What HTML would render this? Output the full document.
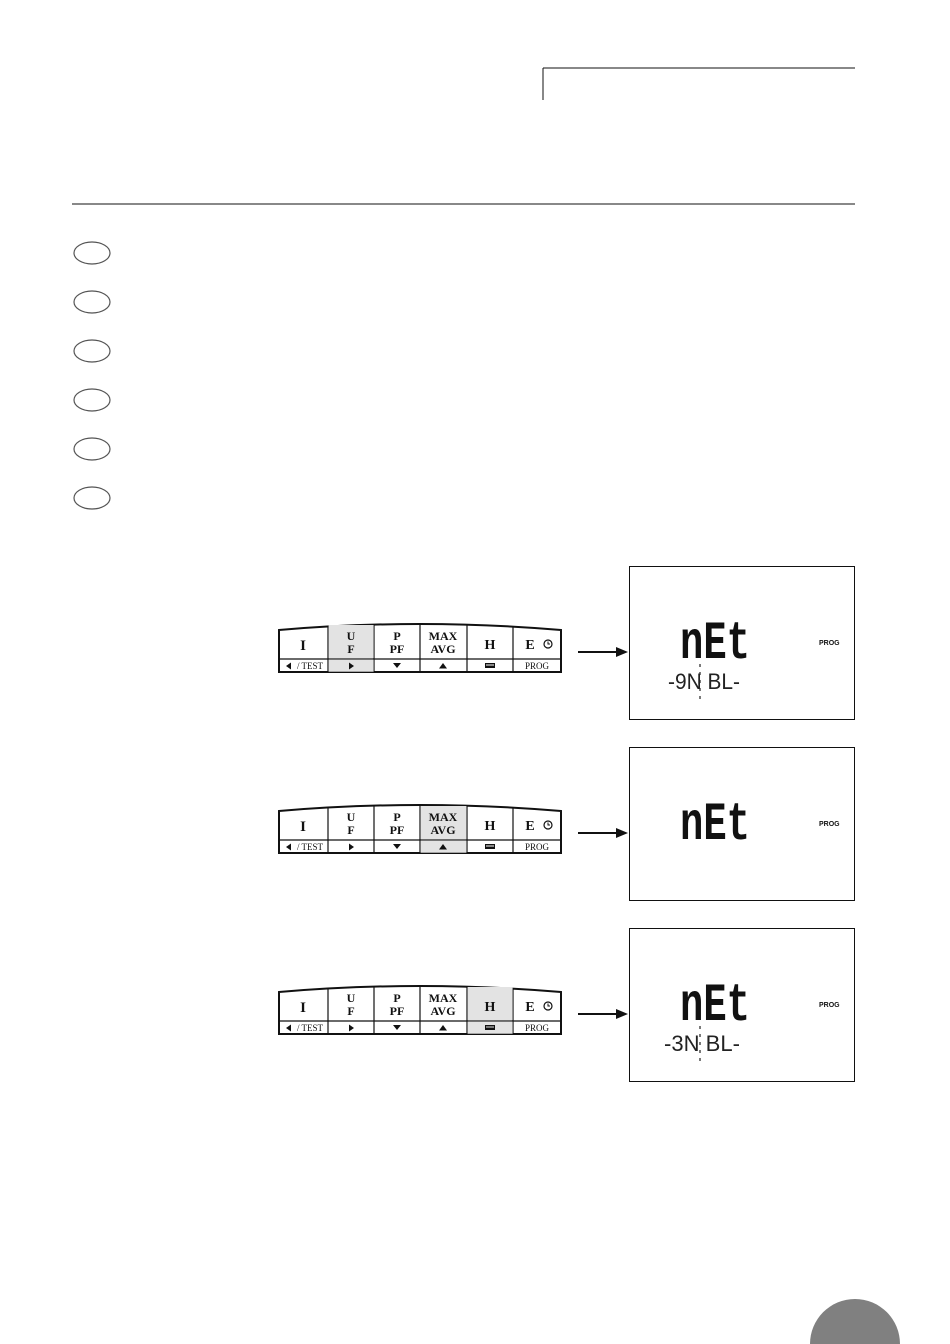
<!DOCTYPE html>
<html><head><meta charset="utf-8"><style>
html,body{margin:0;padding:0;background:#fff}
svg{display:block}
.k{font-family:"Liberation Serif",serif;font-weight:bold;fill:#111;text-anchor:middle}
.s{font-family:"Liberation Serif",serif;font-size:9px;fill:#111;text-anchor:middle}
.seg{font-family:"Liberation Mono",monospace;font-weight:bold;fill:#111}
</style></head><body>
<svg width="950" height="1344" viewBox="0 0 950 1344" xmlns="http://www.w3.org/2000/svg">
<defs>
<g id="kp">
  <path d="M1,8 Q142,-4 283,8 L283,50 L1,50 Z" fill="#fff" stroke="#111" stroke-width="2"/>
  <line x1="1" y1="37" x2="283" y2="37" stroke="#111" stroke-width="1.2"/>
  <g stroke="#111" stroke-width="1.2">
    <line x1="50" y1="4" x2="50" y2="50"/><line x1="96" y1="2" x2="96" y2="50"/>
    <line x1="142" y1="1.5" x2="142" y2="50"/><line x1="189" y1="2" x2="189" y2="50"/>
    <line x1="235" y1="4" x2="235" y2="50"/>
  </g>
  <text class="k" x="25" y="28" font-size="15">I</text>
  <text class="k" x="73" y="18" font-size="12">U</text><text class="k" x="73" y="31" font-size="12">F</text>
  <text class="k" x="119" y="18" font-size="12">P</text><text class="k" x="119" y="31" font-size="12">PF</text>
  <text class="k" x="165" y="18" font-size="12">MAX</text><text class="k" x="165" y="31" font-size="12">AVG</text>
  <text class="k" x="212" y="27" font-size="14">H</text>
  <text class="k" x="252" y="27" font-size="14">E</text>
  <circle cx="270" cy="22" r="4" fill="none" stroke="#111" stroke-width="1.2"/><path d="M270,19.5 V22 H272" stroke="#111" fill="none" stroke-width="1"/>
  <path d="M8,44 L13,40.5 L13,47.5 Z" fill="#111"/><text class="s" x="32" y="47">/ TEST</text>
  <path d="M71,40.5 L76,44 L71,47.5 Z" fill="#111"/>
  <path d="M115,41 L123,41 L119,46 Z" fill="#111"/>
  <path d="M161,46.5 L169,46.5 L165,41 Z" fill="#111"/>
  <rect x="207" y="41" width="10" height="5" fill="#111"/><rect x="208" y="42.5" width="8" height="1" fill="#fff"/>
  <text class="s" x="259" y="47">PROG</text>
</g>
<g id="arr"><line x1="0" y1="0" x2="42" y2="0" stroke="#111" stroke-width="2"/><path d="M50,0 L38,-5 L38,5 Z" fill="#111"/></g>
</defs>

<line x1="543" y1="68" x2="855" y2="68" stroke="#111" stroke-width="1"/>
<line x1="543" y1="68" x2="543" y2="100" stroke="#111" stroke-width="1"/>
<line x1="72" y1="204" x2="855" y2="204" stroke="#111" stroke-width="1"/>

<g fill="none" stroke="#555" stroke-width="1.2">
<ellipse cx="92" cy="253" rx="18" ry="11"/><ellipse cx="92" cy="302" rx="18" ry="11"/>
<ellipse cx="92" cy="351" rx="18" ry="11"/><ellipse cx="92" cy="400" rx="18" ry="11"/>
<ellipse cx="92" cy="449" rx="18" ry="11"/><ellipse cx="92" cy="498" rx="18" ry="11"/>
</g>

<!-- panel 1 -->
<rect x="328" y="625" width="46" height="47" fill="#e3e3e3"/>
<use href="#kp" x="278" y="622"/>
<rect x="328.6" y="625" width="45" height="33" fill="#e3e3e3"/><rect x="328.6" y="659.7" width="45" height="12" fill="#e3e3e3"/>
<text class="k" x="351" y="640" font-size="12">U</text><text class="k" x="351" y="653" font-size="12">F</text>
<path d="M349,662.5 L354,666 L349,669.5 Z" fill="#111"/>
<use href="#arr" x="578" y="652"/>
<rect x="629.5" y="566.5" width="225" height="153" fill="none" stroke="#111" stroke-width="1"/>
<text class="seg" x="680" y="658" font-size="54" textLength="70" lengthAdjust="spacingAndGlyphs">nEt</text>
<text x="819" y="645" font-family="Liberation Sans,sans-serif" font-size="7" font-weight="bold" fill="#111">PROG</text>
<text x="668" y="689" font-family="Liberation Sans,sans-serif" font-size="22" fill="#222" textLength="72" lengthAdjust="spacingAndGlyphs">-9N BL-</text>
<line x1="700" y1="664" x2="700" y2="704" stroke="#222" stroke-width="1.2" stroke-dasharray="3,5"/>

<!-- panel 2 -->
<use href="#kp" x="278" y="803"/>
<rect x="420.6" y="806" width="45.8" height="33" fill="#e3e3e3"/><rect x="420.6" y="840.7" width="45.8" height="12" fill="#e3e3e3"/>
<text class="k" x="443" y="821" font-size="12">MAX</text><text class="k" x="443" y="834" font-size="12">AVG</text>
<path d="M439,849.5 L447,849.5 L443,844 Z" fill="#111"/>
<use href="#arr" x="578" y="833"/>
<rect x="629.5" y="747.5" width="225" height="153" fill="none" stroke="#111" stroke-width="1"/>
<text class="seg" x="680" y="839" font-size="54" textLength="70" lengthAdjust="spacingAndGlyphs">nEt</text>
<text x="819" y="826" font-family="Liberation Sans,sans-serif" font-size="7" font-weight="bold" fill="#111">PROG</text>

<!-- panel 3 -->
<use href="#kp" x="278" y="984"/>
<rect x="467.6" y="987" width="45" height="33" fill="#e3e3e3"/><rect x="467.6" y="1021.7" width="45" height="12" fill="#e3e3e3"/>
<text class="k" x="490" y="1011" font-size="14">H</text>
<rect x="485" y="1025" width="10" height="5" fill="#111"/><rect x="486" y="1026.5" width="8" height="1" fill="#e3e3e3"/>
<use href="#arr" x="578" y="1014"/>
<rect x="629.5" y="928.5" width="225" height="153" fill="none" stroke="#111" stroke-width="1"/>
<text class="seg" x="680" y="1020" font-size="54" textLength="70" lengthAdjust="spacingAndGlyphs">nEt</text>
<text x="819" y="1007" font-family="Liberation Sans,sans-serif" font-size="7" font-weight="bold" fill="#111">PROG</text>
<text x="664" y="1051" font-family="Liberation Sans,sans-serif" font-size="22" fill="#222" textLength="76" lengthAdjust="spacingAndGlyphs">-3N BL-</text>
<line x1="700" y1="1026" x2="700" y2="1066" stroke="#222" stroke-width="1.2" stroke-dasharray="3,5"/>

<circle cx="855" cy="1344" r="45" fill="#808080"/>
</svg>
</body></html>
